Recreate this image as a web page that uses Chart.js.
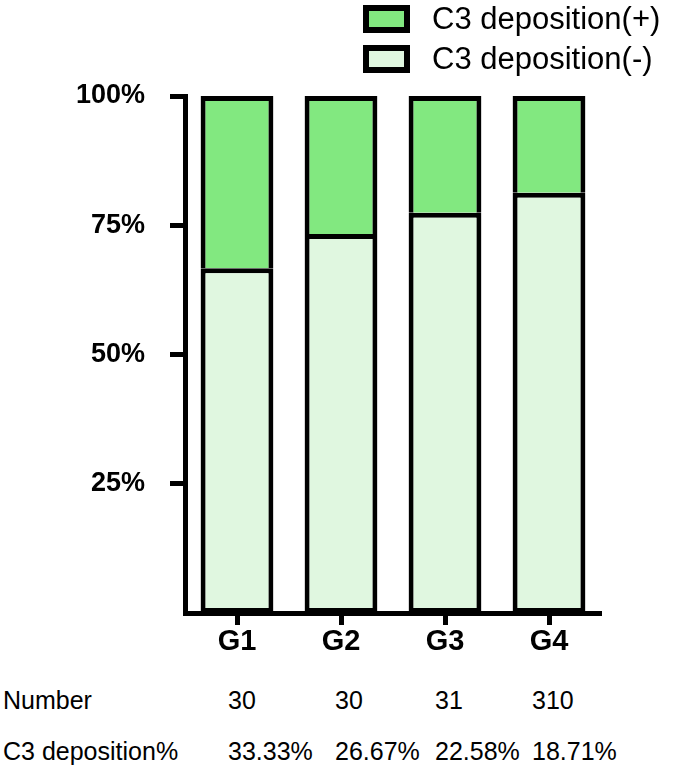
<!DOCTYPE html>
<html lang="en">
<head>
    <meta charset="UTF-8">
    <title>C3 deposition</title>
    <script src="https://cdn.jsdelivr.net/npm/chart.js"></script>
    <style>
        body { margin: 0; background: #fff; font-family: Arial, "Liberation Sans", sans-serif; }
        #wrap { position: relative; width: 675px; height: 777px; }
        #myChart { position: absolute; left: 0; top: 0; }
        .leg-box { position: absolute; left: 363px; width: 47px; height: 28px; box-sizing: border-box; border: 6px solid #000; }
        .leg-text { position: absolute; left: 432px; font-size: 31px; line-height: 34px; color: #000; white-space: nowrap; }
        .cell { position: absolute; font-size: 25px; line-height: 30px; color: #000; white-space: nowrap; }
    </style>
</head>
<body>
<div id="wrap">
    <canvas id="myChart" width="675" height="660"></canvas>
</div>
<script>
    // data
    const groups = ['G1', 'G2', 'G3', 'G4'];
    const negValues = [66.67, 73.33, 77.42, 81.29];
    const posValues = [33.33, 26.67, 22.58, 18.71];
    const numbers = [30, 30, 31, 310];
    const yTicks = [25, 50, 75, 100];
    const seriesLabels = ['C3 deposition(+)', 'C3 deposition(-)'];
    const rowLabels = ['Number', 'C3 deposition%'];

    const posColor = '#82e880';
    const negColor = '#e0f7e0';
    const fontFam = 'Arial, "Liberation Sans", sans-serif';

    const ctx = document.getElementById('myChart').getContext('2d');
    const myChart = new Chart(ctx, {
        type: 'bar',
        data: {
            labels: groups,
            datasets: [
                {
                    label: seriesLabels[1],
                    data: negValues,
                    backgroundColor: negColor,
                    borderColor: '#000',
                    borderWidth: 5,
                    borderSkipped: false,
                    barPercentage: 0.7,
                    categoryPercentage: 1
                },
                {
                    label: seriesLabels[0],
                    data: posValues,
                    backgroundColor: posColor,
                    borderColor: '#000',
                    borderWidth: 5,
                    borderSkipped: 'bottom',
                    barPercentage: 0.7,
                    categoryPercentage: 1
                }
            ]
        },
        options: {
            responsive: false,
            animation: false,
            layout: { padding: { left: 0, right: 74, top: 96, bottom: 0 } },
            plugins: {
                legend: { display: false },
                tooltip: { enabled: false }
            },
            scales: {
                x: {
                    stacked: true,
                    afterFit: s => { s.height = 47; },
                    grid: {
                        drawOnChartArea: false,
                        offset: false,
                        tickLength: 12,
                        tickWidth: 5,
                        tickColor: '#000'
                    },
                    border: { display: true, width: 5, color: '#000' },
                    ticks: { font: { family: fontFam, size: 29, weight: 'bold' }, color: '#000', padding: 0 }
                },
                y: {
                    stacked: true,
                    min: 0,
                    max: 100,
                    afterFit: s => { s.width = 185; },
                    afterBuildTicks: s => { s.ticks = yTicks.map(v => ({ value: v })); },
                    grid: {
                        drawOnChartArea: false,
                        tickLength: 15,
                        tickWidth: 5,
                        tickColor: '#000'
                    },
                    border: { display: true, width: 5, color: '#000' },
                    ticks: {
                        font: { family: fontFam, size: 27, weight: 'bold' },
                        color: '#000',
                        padding: 25,
                        callback: v => v + '%'
                    }
                }
            }
        }
    });

    // legend and table under the chart, as html text
    const wrap = document.getElementById('wrap');
    function addEl(cls, text, styles) {
        const el = document.createElement('div');
        el.className = cls;
        if (text !== null) el.textContent = text;
        Object.assign(el.style, styles);
        wrap.appendChild(el);
    }

    addEl('leg-box', null, { top: '5px', background: posColor });
    addEl('leg-text', seriesLabels[0], { top: '2px' });
    addEl('leg-box', null, { top: '45px', background: negColor });
    addEl('leg-text', seriesLabels[1], { top: '42px' });

    const colLeft = [228, 335, 435, 532];
    const rowTop = [685, 736];
    addEl('cell', rowLabels[0], { left: '3px', top: rowTop[0] + 'px' });
    addEl('cell', rowLabels[1], { left: '3px', top: rowTop[1] + 'px' });
    groups.forEach((g, i) => {
        addEl('cell', String(numbers[i]), { left: colLeft[i] + 'px', top: rowTop[0] + 'px' });
        addEl('cell', posValues[i].toFixed(2) + '%', { left: colLeft[i] + 'px', top: rowTop[1] + 'px' });
    });
</script>
</body>
</html>
